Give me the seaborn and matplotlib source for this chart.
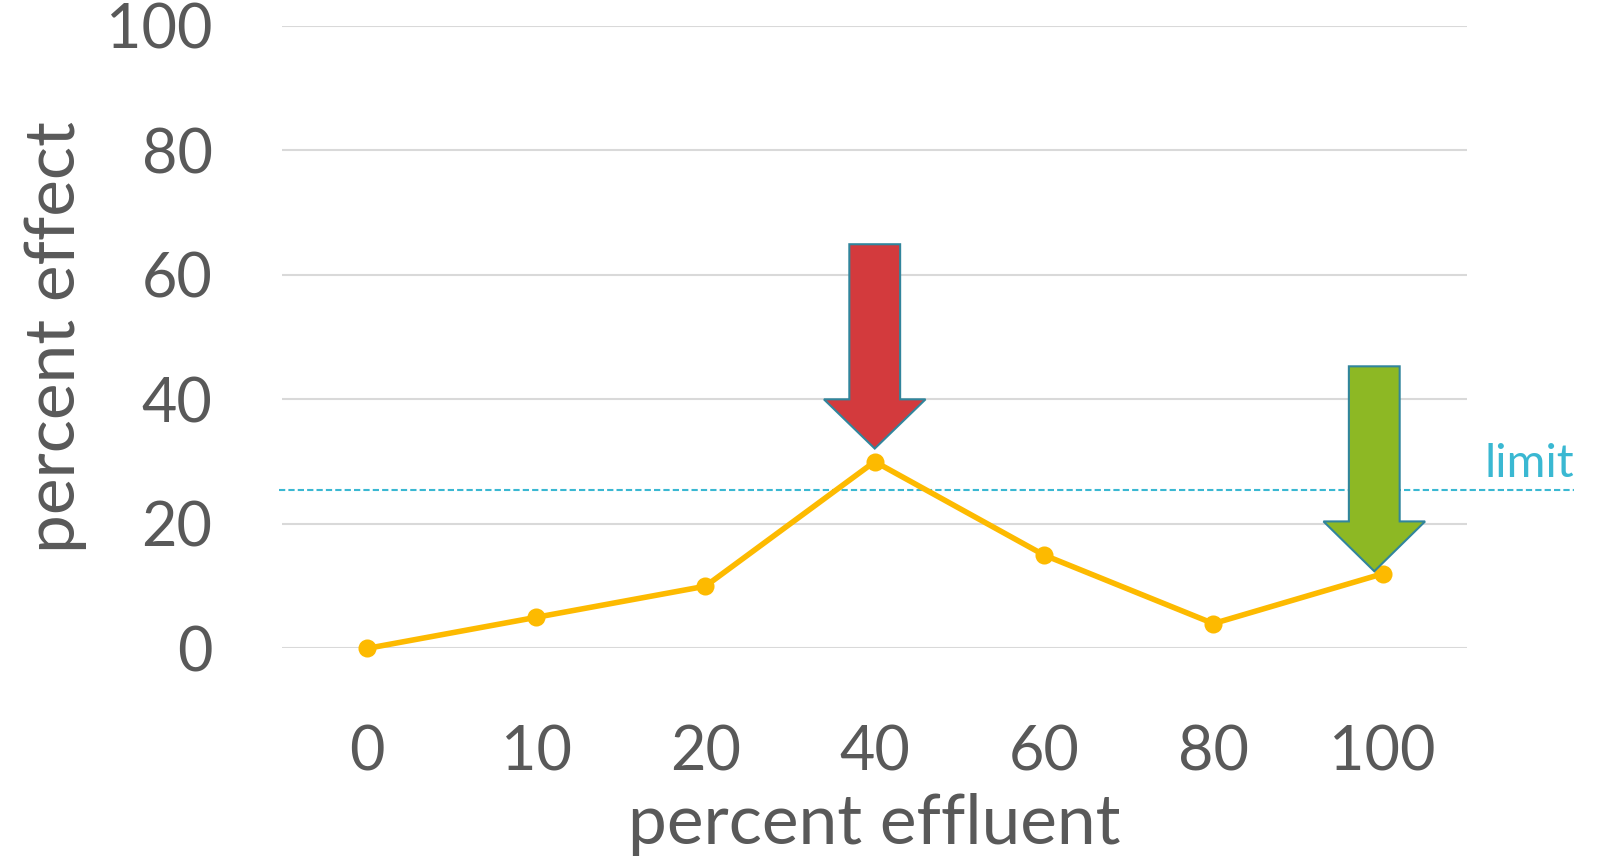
import seaborn as sns
import matplotlib.pyplot as plt
import pandas as pd

# data
effluent = ['0', '10', '20', '40', '60', '80', '100']
effect = [0, 5, 10, 30, 15, 4, 12]
limit_value = 25.5

# arrows: category, top, tip, head length
arrow_cats = ['40', '100']
arrow_top = [64.9, 45.3]
arrow_tip = [32.1, 12.4]
arrow_head_len = [7.9, 8.0]
arrow_colors = ['#D33A3D', '#8DB824']

sns.set_theme(style='white')
plt.rcParams['font.family'] = ['Lato', 'DejaVu Sans']

df = pd.DataFrame({'percent effluent': effluent, 'percent effect': effect})

fig = plt.figure(figsize=(16.09, 8.65), dpi=100)
ax = fig.add_axes([0.1753, 0.2503, 0.912 - 0.1753, 0.9704 - 0.2503])

sns.pointplot(data=df, x='percent effluent', y='percent effect', color='#FDBA00',
              markers='o', markersize=10, linewidth=4, ax=ax, zorder=3)
for ln in ax.lines:
    ln.set_clip_on(False)

ax.set_ylim(0, 100)
ax.set_xlim(-0.5, 6.5)
ax.set_yticks([0, 20, 40, 60, 80, 100])
ax.yaxis.grid(True, color='#D9D9D9', linewidth=1.5)
ax.set_axisbelow(True)
for s in ax.spines.values():
    s.set_visible(False)

gray = '#595959'
ax.tick_params(axis='x', length=0, pad=55, labelsize=44, labelcolor=gray)
ax.tick_params(axis='y', length=0, pad=50, labelsize=44, labelcolor=gray)
ax.set_xlabel('percent effluent', fontsize=50, color=gray, labelpad=8)
ax.set_ylabel('percent effect', fontsize=50, color=gray, labelpad=14)

# limit line
ax.plot([-0.52, 7.13], [limit_value, limit_value], ls=(0, (3, 1.5)), lw=1.5,
        color='#3AB8D2', clip_on=False, zorder=2)
ax.text(7.13, limit_value + 0.8, 'limit', ha='right', va='bottom', fontsize=34,
        color='#3AB8D2', clip_on=False)

# arrows
for cat, top, tip, hl, col, dx in zip(arrow_cats, arrow_top, arrow_tip,
                                      arrow_head_len, arrow_colors, [0.0, -0.05]):
    xi = effluent.index(cat) + dx
    ax.arrow(xi, top, 0, tip - top, width=0.30, head_width=0.60, head_length=hl,
             length_includes_head=True, facecolor=col, edgecolor='#31859C',
             linewidth=1.5, zorder=4)

fig.savefig('out.png', dpi=100)
